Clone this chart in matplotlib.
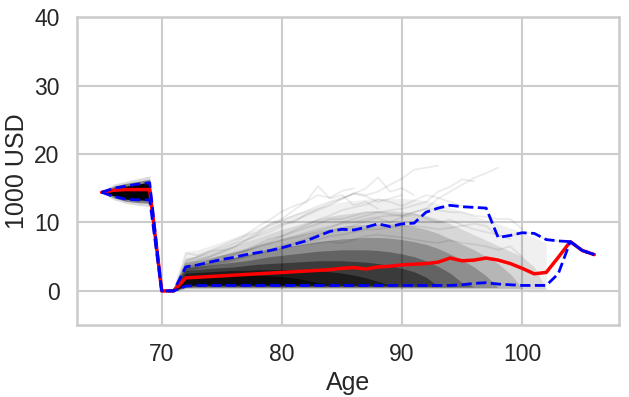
import matplotlib
matplotlib.use("Agg")
import matplotlib.pyplot as plt
import numpy as np
import seaborn as sns

ages = list(range(65, 107))

# mean and 5/95 % quantiles of the simulated paths (1000 USD)
mean = [14.4, 14.7, 14.8, 14.8, 14.8, 0.0, 0.0,
        1.9, 2.0, 2.1, 2.2, 2.3, 2.4, 2.5, 2.6, 2.7, 2.8,
        2.9, 3.0, 3.1, 3.3, 3.4, 3.2, 3.5, 3.6, 3.8, 3.9,
        4.0, 4.2, 4.8, 4.4, 4.5, 4.8, 4.5, 4.0, 3.3, 2.5,
        2.7, 4.9, 7.2, 5.9, 5.3]
q_hi = [14.4, 15.0, 15.3, 15.6, 15.8, 0.0, 0.0,
        3.5, 3.8, 4.2, 4.6, 4.9, 5.3, 5.6, 5.9, 6.3, 6.8,
        7.3, 8.0, 8.7, 9.0, 8.9, 9.3, 9.8, 9.4, 9.8, 9.9,
        11.5, 12.1, 12.5, 12.3, 12.2, 12.1, 7.8, 8.1, 8.5, 8.4,
        7.5, 7.3, 7.2, 5.9, 5.3]
q_lo = [14.4, 13.8, 13.4, 13.3, 13.3, 0.0, 0.0,
        0.7, 0.8, 0.8, 0.8, 0.8, 0.8, 0.8, 0.8, 0.8, 0.8,
        0.8, 0.8, 0.8, 0.8, 0.8, 0.8, 0.8, 0.8, 0.8, 0.8,
        0.8, 0.8, 0.8, 0.9, 1.1, 1.2, 1.0, 0.9, 0.8, 0.8,
        0.8, 2.5, 7.2, 5.9, 5.3]

# path cloud before retirement drop, ages 65-71: (low, high, alpha)
head_ages = ages[:7]
head_bands = [
    ([14.4, 13.3, 12.8, 12.5, 12.3, 0, 0], [14.4, 15.6, 16.0, 16.4, 16.8, 0, 0], 0.15),
    ([14.4, 13.6, 13.1, 12.9, 12.8, 0, 0], [14.4, 15.3, 15.7, 16.0, 16.3, 0, 0], 0.4),
    ([14.4, 13.9, 13.4, 13.3, 13.2, 0, 0], [14.4, 15.0, 15.3, 15.6, 15.9, 0, 0], 0.97),
]

# path cloud after the drop, ages 71-102: upper edge of each density level
body_ages = ages[6:38]
body_hi = [
    [0, 5.8, 6.0, 6.6, 7.2, 7.8, 8.5, 9.2, 9.9, 10.6, 11.2, 11.8, 12.3, 12.7, 13.0, 13.2,
     13.4, 13.5, 13.5, 13.5, 13.4, 13.2, 12.8, 12.2, 11.6, 11.0, 10.4, 9.8, 9.2, 8.6, 7.8, 7.0],
    [0, 4.8, 5.1, 5.6, 6.1, 6.6, 7.2, 7.8, 8.4, 9.0, 9.5, 10.0, 10.5, 10.9, 11.2, 11.4,
     11.6, 11.7, 11.7, 11.6, 11.4, 11.0, 10.5, 9.8, 9.0, 8.2, 7.4, 6.6, 5.8, 5.0, 3.5, 0.3],
    [0, 4.2, 4.5, 4.9, 5.3, 5.7, 6.1, 6.6, 7.1, 7.6, 8.0, 8.4, 8.8, 9.1, 9.4, 9.6,
     9.7, 9.8, 9.8, 9.7, 9.4, 9.0, 8.4, 7.6, 6.8, 6.0, 5.0, 4.0, 2.5, 0.4, 0.4, 0.4],
    [0, 3.8, 4.0, 4.3, 4.6, 4.9, 5.2, 5.6, 6.0, 6.3, 6.6, 6.9, 7.2, 7.4, 7.6, 7.7,
     7.8, 7.8, 7.7, 7.5, 7.2, 6.8, 6.2, 5.4, 4.5, 3.5, 2.2, 0.5, 0.5, 0.5, 0.5, 0.5],
    [0, 3.4, 3.6, 3.8, 4.0, 4.2, 4.4, 4.7, 5.0, 5.2, 5.4, 5.6, 5.8, 5.9, 6.0, 6.0,
     6.0, 5.9, 5.7, 5.4, 5.0, 4.4, 3.6, 2.6, 1.2, 0.6, 0.6, 0.6, 0.6, 0.6, 0.6, 0.6],
    [0, 3.0, 3.1, 3.3, 3.4, 3.5, 3.7, 3.9, 4.0, 4.1, 4.2, 4.3, 4.4, 4.4, 4.4, 4.3,
     4.2, 4.0, 3.7, 3.3, 2.8, 2.0, 0.7, 0.7, 0.7, 0.7, 0.7, 0.7, 0.7, 0.7, 0.7, 0.7],
    [0, 2.6, 2.7, 2.8, 2.9, 3.0, 3.0, 3.1, 3.1, 3.1, 3.1, 3.0, 2.9, 2.8, 2.6, 2.3,
     1.9, 1.4, 0.8, 0.8, 0.8, 0.8, 0.8, 0.8, 0.8, 0.8, 0.8, 0.8, 0.8, 0.8, 0.8, 0.8],
    [0, 2.2, 2.3, 2.3, 2.4, 2.4, 2.4, 2.3, 2.2, 2.1, 1.9, 1.6, 1.2, 0.9, 0.9, 0.9,
     0.9, 0.9, 0.9, 0.9, 0.9, 0.9, 0.9, 0.9, 0.9, 0.9, 0.9, 0.9, 0.9, 0.9, 0.9, 0.9],
]
body_lo = [0.2, 0.3, 0.4, 0.5, 0.6, 0.7, 0.8, 0.9]
body_alpha = [0.06, 0.1, 0.15, 0.22, 0.3, 0.4, 0.5, 0.6]

# a few individual paths that stand out above the cloud (start at age 71)
strands = [
    [0, 4.5, 5.0, 5.6, 6.3, 7.0, 8.0, 8.6, 9.8, 10.5, 11.8, 13.0, 15.3, 13.5, 14.0, 12.5, 13.0, 12.0],
    [0, 4.0, 4.6, 5.0, 5.8, 6.4, 7.3, 8.0, 8.6, 9.5, 10.3, 11.0, 11.8, 12.5, 13.5, 14.2, 15.0, 16.6, 14.5, 15.0, 14.0],
    [0, 5.5, 5.2, 5.8, 6.0, 6.8, 7.5, 8.2, 9.0, 9.8, 10.0, 11.2, 12.0, 12.8, 13.4, 14.3, 14.0, 14.5, 15.5, 16.4, 17.7, 18.0, 18.3],
    [0, 3.8, 4.2, 4.5, 5.0, 5.6, 6.0, 6.6, 7.0, 7.6, 8.0, 8.5, 9.0, 9.4, 9.8, 10.0, 10.5, 10.8, 11.0, 11.0, 11.5, 12.0, 13.5, 14.5, 15.5, 16.5, 17.2, 18.0],
    [0, 3.5, 4.0, 4.4, 4.8, 5.3, 5.8, 6.4, 6.9, 7.4, 7.8, 8.3, 8.8, 9.2, 10.0, 10.5, 11.0, 11.5, 11.8, 12.0, 12.5, 13.0, 14.5, 15.2, 16.3, 16.0],
    [0, 3.0, 3.5, 4.0, 4.6, 5.2, 5.8, 6.5, 7.2, 8.0, 8.6, 9.2, 9.8, 10.5, 10.5, 11.0, 11.5, 11.5, 11.2, 11.0, 11.5, 12.0, 11.8, 11.5, 11.5, 11.0, 10.8, 10.5, 10.5, 9.0],
    [0, 3.2, 3.6, 4.0, 4.3, 4.7, 5.0, 5.5, 6.0, 6.3, 6.8, 7.2, 7.5, 8.0, 8.2, 8.6, 9.0, 9.0, 9.3, 9.5, 9.5, 9.3, 9.0, 9.2, 9.5, 9.8, 9.5, 8.0, 8.1, 8.5, 8.4, 7.5, 7.3, 7.2, 5.9, 5.3],
    [0, 2.8, 3.2, 3.6, 4.0, 4.5, 5.0, 5.4, 5.8, 6.2, 6.5, 6.8, 7.0, 7.2, 7.0, 7.5, 8.0, 8.2, 8.0, 7.8, 7.5, 7.2, 7.0, 7.4, 7.0, 6.8, 6.5, 6.0, 6.5, 5.0],
    [0, 4.2, 5.0, 5.8, 6.6, 7.4, 8.2, 9.4, 10.4, 11.6, 12.4, 13.0, 14.0, 13.6, 14.6, 15.0],
    [0, 3.6, 4.4, 5.0, 5.6, 6.4, 7.4, 8.4, 9.6, 10.2, 11.0, 11.6, 12.4, 13.0, 13.6, 14.2, 13.8, 13.0, 13.5, 14.0],
    [0, 3.4, 3.8, 4.4, 5.0, 5.4, 6.0, 6.8, 7.6, 8.0, 8.8, 9.6, 10.4, 11.0, 11.8, 12.2, 12.6, 13.4, 13.0, 12.4, 13.2, 14.0, 13.6, 13.0, 12.4],
    [0, 3.0, 3.4, 3.8, 4.2, 4.6, 5.2, 5.6, 6.0, 6.6, 7.0, 7.6, 8.2, 8.6, 9.2, 9.6, 10.2, 10.6, 10.0, 10.8, 11.2, 10.6, 10.0, 10.4, 9.6, 9.0, 8.6, 8.2, 7.6],
]

sns.set_theme(style="whitegrid", context="talk")
plt.rcParams["font.family"] = ["Liberation Sans", "DejaVu Sans"]

fig, ax = plt.subplots(figsize=(6.29, 3.97), dpi=100)
fig.subplots_adjust(left=0.1224, right=0.984, top=0.957, bottom=0.181)

for lo, hi, a in head_bands:
    ax.fill_between(head_ages, lo, hi, color="black", alpha=a, linewidth=0)

for hi, lo, a in zip(body_hi, body_lo, body_alpha):
    lo_line = [0] + [lo] * (len(hi) - 1)
    ax.fill_between(body_ages, lo_line, np.maximum(hi, lo_line),
                    color="black", alpha=a, linewidth=0)

for s in strands:
    ax.plot(ages[6:6 + len(s)], s, color="black", alpha=0.08, lw=1.3)

ax.plot(ages, mean, color="red", lw=2.5)
ax.plot(ages, q_hi, color="blue", ls="--", lw=2.0)
ax.plot(ages, q_lo, color="blue", ls="--", lw=2.0)

ax.set_ylim(-5, 40)
ax.set_xticks([70, 80, 90, 100])
ax.set_yticks([0, 10, 20, 30, 40])
ax.set_xlabel("Age")
ax.set_ylabel("1000 USD")

fig.savefig("out.png")
